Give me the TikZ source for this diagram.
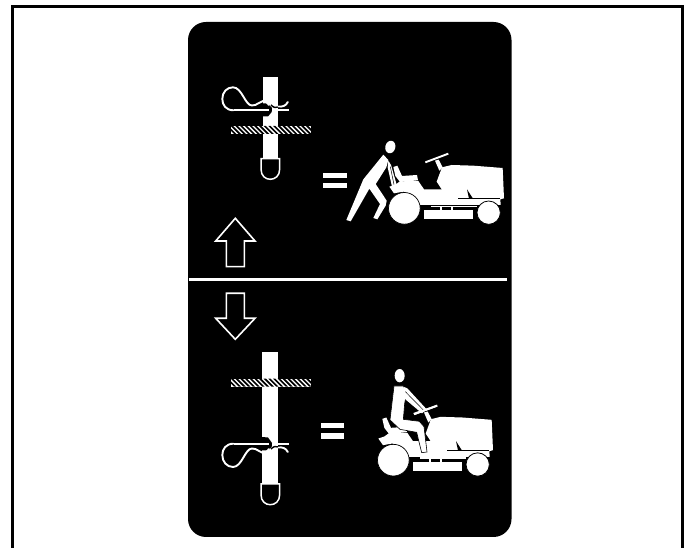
\documentclass[tikz,border=0pt]{standalone}
\usetikzlibrary{calc}
\tikzset{
  pxw/.style={line width=#1*0.75pt},
  arrowout/.style={draw=white,pxw=1.6,fill=black,line join=miter},
  clipwire/.style={draw=white,pxw=1.9,line cap=round,line join=round},
  tractor/.pic={
    % seat
    \fill[white] (220,171) -- (232,167) -- (246,198) -- (291,195) -- (294,211) -- (262,214) -- (240,216) -- (226,198) -- cycle;
    % fender
    \fill[white] (208,230) -- (226,224) -- (240,214) -- (295,213) -- (312,238) -- (366,238) -- (366,283) -- (300,283) -- (280,255) -- (250,245) -- (222,250) -- cycle;
    % hood and body
    \fill[white] (365,238) -- (350,215) -- (366,172) -- (395,165) -- (460,167) -- (548,174) -- (552,265) -- (541,268) -- (542,285) -- (300,285) -- (300,268) -- (360,262) -- cycle;
    % notch in the hood
    \fill[black] (441,238) -- (447,266) -- (459,266) -- cycle;
    \draw[black,pxw=0.4] (415,266) -- (540,266);
    % rear wheel
    \fill[white,draw=black,pxw=0.7] (253,295) circle[radius=47.5];
    % front wheel
    \fill[white,draw=black,pxw=0.8] (506,308) circle[radius=35];
    % deck
    \fill[white] (313,300) rectangle (458,327);
    \fill[white] (333,287) rectangle (470,292);
    \fill[white] (360,290) rectangle (366,300);
    \fill[white] (394,290) rectangle (400,300);
    % steering wheel and column
    \fill[white] (345,152) -- (356,149) -- (368,172) -- (358,182) -- cycle;
    \draw[white,pxw=1.9] (316,157) -- (385,131);
  }
}
\begin{document}
\begin{tikzpicture}[x=0.75pt,y=-0.75pt]
\useasboundingbox (0,0) rectangle (689,548);
\fill[white] (0,0) rectangle (689,548);
% outer frame, open at the bottom
\draw[black,pxw=3] (12.5,548) -- (12.5,6.5) -- (682.5,6.5) -- (682.5,548);
% panel
\fill[black,rounded corners=13.5pt] (188,22) rectangle (511.5,537);
% divider
\fill[white] (189,278.3) rectangle (507,281.2);
% arrows
\draw[arrowout] (235.3,218.3) -- (255,241) -- (244.3,241) -- (244.3,266.7) -- (226.3,266.7) -- (226.3,241) -- (215.7,241) -- cycle;
\draw[arrowout] (235.3,339.3) -- (255,318.3) -- (244.3,318.3) -- (244.3,293.3) -- (226.3,293.3) -- (226.3,318.3) -- (215.7,318.3) -- cycle;
% upper pin
\fill[white] (262.5,76.7) rectangle (278,160);
\draw[white,pxw=1.5,fill=black] (261,158.7) -- (279.7,158.7) -- (279.7,169) .. controls (279.7,176) and (275,179.3) .. (270.3,179.3) .. controls (265.5,179.3) and (261,176) .. (261,169) -- cycle;
\begin{scope}
  \clip (231,126) rectangle (311,134);
  \fill[white] (231,126) rectangle (311,134);
  \foreach \i in {0,...,18} {
    \fill[black] ({226+4.7*\i},126) -- ++(2.35,0) -- ++(8,8) -- ++(-2.35,0) -- cycle;
  }
\end{scope}
% upper clip
\fill[black] (262.5,103.5) -- (268,103.5) -- (272,108) -- (271.7,112) -- (268,116.5) -- (262.5,116.5) -- cycle;
\draw[black,pxw=1.4] (271,105) .. controls (274,108) and (276,108) .. (278,107);
\draw[clipwire] (287.8,102) .. controls (286,106) and (282,107) .. (278.5,106.5);
\draw[clipwire] (233.5,110.3) .. controls (226,110.3) and (222.3,105) .. (222.3,99) .. controls (222.3,92) and (227,87.3) .. (233,87.3) .. controls (242,87.3) and (245,105.5) .. (252,105.5) .. controls (257,105.5) and (259,102) .. (263,101) .. controls (266,100.5) and (267,103) .. (269,105);
\draw[white,pxw=1.9] (233.5,110.3) -- (268.5,110.3);
\draw[white,pxw=1.9] (277.5,110.3) -- (288.5,110.3);
% lower pin
\fill[white] (262,352) rectangle (278,485);
\draw[white,pxw=1.5,fill=black] (261,484) -- (279.7,484) -- (279.7,494.5) .. controls (279.7,501.5) and (275,504.7) .. (270.3,504.7) .. controls (265.5,504.7) and (261,501.5) .. (261,494.5) -- cycle;
\begin{scope}
  \clip (231,378.7) rectangle (311,386.7);
  \fill[white] (231,378.7) rectangle (311,386.7);
  \foreach \i in {0,...,18} {
    \fill[black] ({226+4.7*\i},378.7) -- ++(2.35,0) -- ++(8,8) -- ++(-2.35,0) -- cycle;
  }
\end{scope}
% lower clip
\fill[black] (262,437) -- (268,437.5) -- (272,443) -- (271.7,447) -- (268,450.5) -- (262,450.5) -- cycle;
\draw[black,pxw=1.4] (271,449) .. controls (274,446) and (276,446) .. (278,447);
\draw[clipwire] (287.8,452) .. controls (286,448) and (282,447) .. (278.5,447.5);
\draw[clipwire] (233.5,443.7) .. controls (226,443.7) and (222.3,449) .. (222.3,455) .. controls (222.3,462) and (227,467) .. (233,467) .. controls (242,467) and (245,448.5) .. (252,448.5) .. controls (257,448.5) and (259,452) .. (263,453) .. controls (266,453.5) and (267,451) .. (269,449);
\draw[white,pxw=1.9] (233.5,443.7) -- (268.5,443.7);
\draw[white,pxw=1.9] (277.5,443.7) -- (288.5,443.7);
% equals signs
\fill[white] (323.3,172.7) rectangle (346.7,178.3);
\fill[white] (323.3,182.7) rectangle (346.7,188.3);
\fill[white] (321,423.3) rectangle (344.3,428.3);
\fill[white] (321,433.3) rectangle (344.3,438.7);
% upper tractor and walker
\begin{scope}[shift={(320,110)},x=0.25pt,y=-0.25pt]
  \pic {tractor};
  \fill[white,rotate around={-15:(211,111)}] (211,111) ellipse[x radius=15,y radius=19];
  \fill[white] (190,134) -- (205,150) -- (199,172) -- (175,210) -- (167,222) -- (200,272) -- (197,287) -- (172,328) -- (160,324) -- (180,282) -- (148,236) -- (92,334) -- (79,330) -- (130,208) -- cycle;
  \fill[white] (205,152) -- (213,165) -- (230,224) -- (216,230) -- (203,172) -- cycle;
  \draw[black,pxw=0.5] (211,170) -- (222,224);
\end{scope}
% lower tractor and rider
\begin{scope}[shift={(320,360)},x=0.25pt,y=-0.25pt]
  \pic[shift={(-33,5.5)}] {tractor};
  \fill[white] (239,47) ellipse[x radius=15,y radius=20];
  \fill[white,draw=black,pxw=0.6] (222,78) -- (250,78) -- (260,100) -- (254,130) -- (250,178) -- (298,184) -- (312,200) -- (321,276) -- (305,278) -- (290,217) -- (240,208) -- (210,180) -- cycle;
  \fill[white] (250,80) -- (262,85) -- (320,148) -- (306,160) -- (256,118) -- cycle;
  \draw[black,pxw=0.5] (256,95) -- (310,150);
  \fill[white] (280,159) -- (350,135) -- (352,140) -- (283,165) -- cycle;
\end{scope}
\end{tikzpicture}
\end{document}
